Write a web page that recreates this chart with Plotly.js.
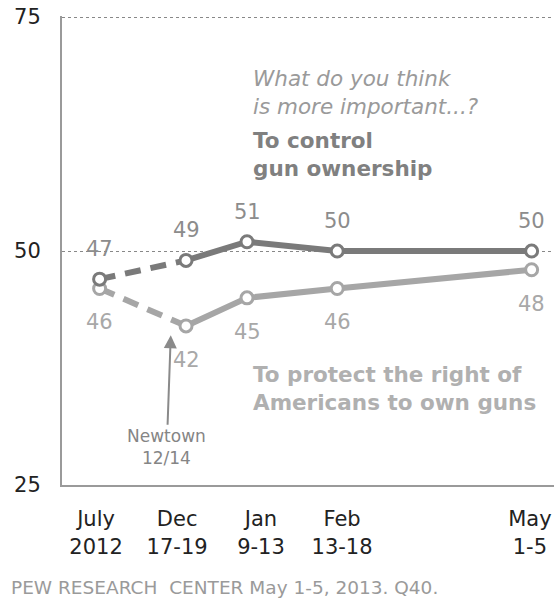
<!DOCTYPE html>
<html>
<head>
<meta charset="utf-8">
<script src="https://cdn.plot.ly/plotly-3.0.1.min.js"></script>
<style>html,body{margin:0;padding:0;background:#fff;}#chart{width:554px;height:604px;}</style>
</head>
<body>
<div id="chart"></div>
<script>
// Survey waves (x = days relative to the Dec 17-19 wave; July 2012 shown compressed as in the original)
const waveLabels = ["July<br>2012", "Dec<br>17-19", "Jan<br>9-13", "Feb<br>13-18", "May<br>1-5"];
const waveX = [-34, 0, 24, 59.5, 136];
const controlGuns = [47, 49, 51, 50, 50];
const protectRights = [46, 42, 45, 46, 48];
const yTicks = [25, 50, 75];
// label anchors on the axis (the original spreads the crowded labels slightly)
const labelX = [-35.4, -3.5, 29.5, 61.4, 135.3];

const controlColor = "#7a7a7a";
const protectColor = "#a6a6a6";
const font = "DejaVu Sans, Verdana, sans-serif";

function lineTrace(xs, ys, color, dash) {
  return {x: xs, y: ys, type: "scatter", mode: "lines", hoverinfo: "skip",
          line: {color: color, width: 6, dash: dash}, showlegend: false};
}
function markerTrace(xs, ys, color) {
  return {x: xs, y: ys, type: "scatter", mode: "markers", hoverinfo: "skip", showlegend: false,
          marker: {symbol: "circle", size: 12, color: "#ffffff", line: {color: color, width: 3}}};
}

const data = [
  lineTrace(waveX.slice(0, 2), protectRights.slice(0, 2), protectColor, "16px,10px"),
  lineTrace(waveX.slice(1), protectRights.slice(1), protectColor, "solid"),
  lineTrace(waveX.slice(0, 2), controlGuns.slice(0, 2), controlColor, "16px,10px"),
  lineTrace(waveX.slice(1), controlGuns.slice(1), controlColor, "solid"),
  markerTrace(waveX, protectRights, protectColor),
  markerTrace(waveX, controlGuns, controlColor)
];

const annotations = [];
waveX.forEach((xv, i) => {
  annotations.push({x: xv, y: controlGuns[i], xref: "x", yref: "y", text: String(controlGuns[i]),
    showarrow: false, yshift: 30, font: {family: font, size: 21, color: "#8c8c8c"}});
  annotations.push({x: xv, y: protectRights[i], xref: "x", yref: "y", text: String(protectRights[i]),
    showarrow: false, yshift: -34, font: {family: font, size: 21, color: "#a8a8a8"}});
});

annotations.push({
  xref: "paper", yref: "paper", x: 0.384, y: 0.8365, xanchor: "left", yanchor: "middle", align: "left",
  showarrow: false, text: "<i>What do you think<br>is more important...?</i>",
  font: {family: font, size: 21.5, color: "#9a9a9a"}
});
annotations.push({
  xref: "paper", yref: "paper", x: 0.384, y: 0.705, xanchor: "left", yanchor: "middle", align: "left",
  showarrow: false, text: "<b>To control<br>gun ownership</b>",
  font: {family: font, size: 21.5, color: "#808080"}
});
annotations.push({
  xref: "paper", yref: "paper", x: 0.384, y: 0.206, xanchor: "left", yanchor: "middle", align: "left",
  showarrow: false, text: "<b>To protect the right of<br>Americans to own guns</b>",
  font: {family: font, size: 21.5, color: "#b0b0b0"}
});
annotations.push({
  x: waveX[1] - 6, y: 41, xref: "x", yref: "y", axref: "pixel", ayref: "pixel",
  ax: -4, ay: 112, showarrow: true, arrowhead: 2, arrowsize: 1.3, arrowwidth: 2, arrowcolor: "#8a8a8a",
  text: "Newtown<br>12/14", font: {family: font, size: 17, color: "#858585"}
});
annotations.push({
  xref: "paper", yref: "paper", x: -0.108, y: -0.218, xanchor: "left", yanchor: "middle",
  showarrow: false, text: "PEW RESEARCH  CENTER May 1-5, 2013. Q40.",
  font: {family: font, size: 18.5, color: "#9a9a9a"}
});

const layout = {
  width: 554, height: 604,
  margin: {l: 62, r: 0, t: 16, b: 119},
  paper_bgcolor: "#ffffff", plot_bgcolor: "#ffffff",
  showlegend: false,
  xaxis: {
    type: "linear", range: [-48.8, 144.8], tickmode: "array", tickvals: labelX, ticktext: waveLabels,
    showgrid: false, zeroline: false, showline: true, linecolor: "#9a9a9a", linewidth: 2,
    ticks: "outside", ticklen: 14, tickcolor: "rgba(0,0,0,0)",
    tickfont: {family: font, size: 21, color: "#222222"}, fixedrange: true
  },
  yaxis: {
    range: [25, 75.12], tickmode: "array", tickvals: yTicks, ticktext: yTicks.map(String),
    showgrid: true, gridcolor: "#888888", gridwidth: 1, griddash: "dot",
    zeroline: false, showline: true, linecolor: "#9a9a9a", linewidth: 2,
    ticks: "outside", ticklen: 15, tickcolor: "rgba(0,0,0,0)",
    tickfont: {family: font, size: 21, color: "#222222"}, fixedrange: true
  },
  annotations: annotations
};

Plotly.newPlot("chart", data, layout, {displayModeBar: false, staticPlot: true});
</script>
</body>
</html>
